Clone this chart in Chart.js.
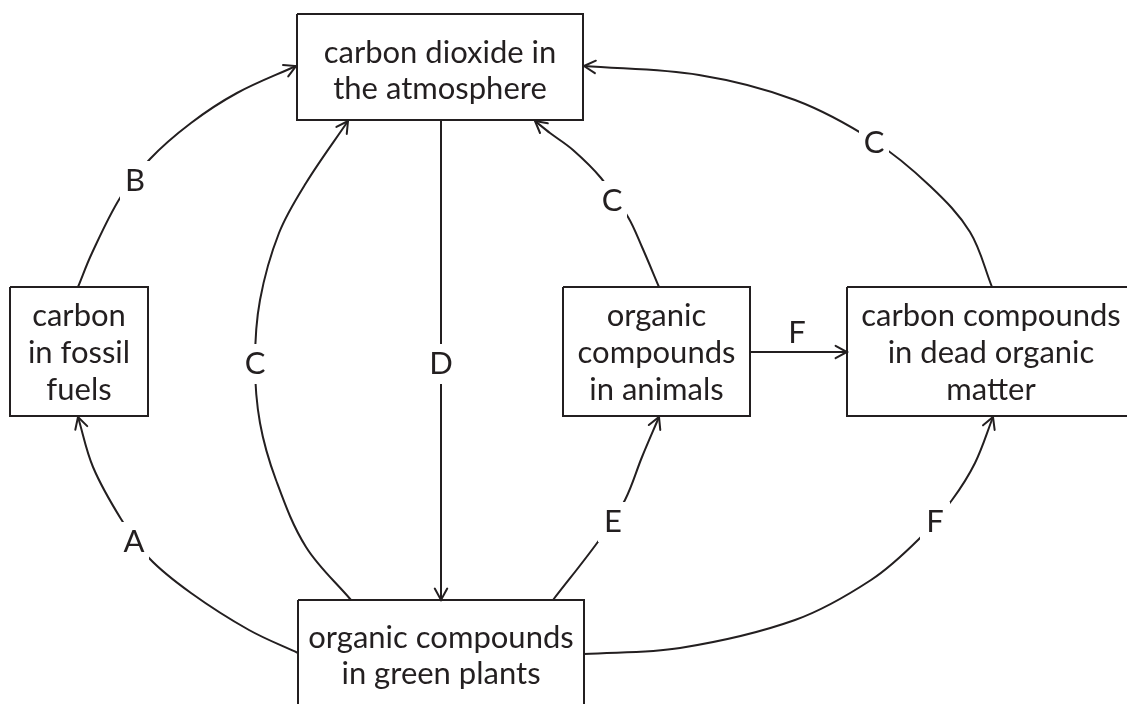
<!DOCTYPE html>
<html>
<head>
<meta charset="utf-8">
<title>Carbon cycle</title>
<script src="https://cdn.jsdelivr.net/npm/chart.js@4/dist/chart.umd.min.js"></script>
<style>
  body { margin: 0; background: #ffffff; }
  #wrap { width: 1127px; height: 704px; }
</style>
</head>
<body>
<div id="wrap"><canvas id="cycleChart" width="1127" height="704"></canvas></div>
<script>
// ======================================
// DATA (diagram units = picture pixels)
// ======================================

const boxNames  = ["atmosphere", "fossil", "animals", "dead", "plants"];
const boxLeft   = [297, 10, 563, 847, 298];
const boxTop    = [14, 287, 287, 287, 600];
const boxRight  = [583, 148, 750, 1135, 584];
const boxBottom = [120, 416, 416, 416, 720];
const boxText = [
    ["carbon dioxide in", "the atmosphere"],
    ["carbon", "in fossil", "fuels"],
    ["organic", "compounds", "in animals"],
    ["carbon compounds", "in dead organic", "matter"],
    ["organic compounds", "in green plants"]
];
const boxTextY = [
    [53, 89],
    [316, 353, 390],
    [316, 353, 390],
    [316, 353, 390],
    [638, 674]
];

// each flow runs from its start to the arrow tip
const flowA  = [[298, 653], [249, 630], [191, 593], [149, 558], [121, 519], [93, 467], [78, 417]];
const flowB  = [[78, 287], [92, 253], [120, 198], [150, 159], [191, 123], [237, 93], [296, 66]];
const flowC1 = [[351, 600], [306, 547], [276, 480], [260, 423], [255, 363], [260, 300], [279, 233], [306, 183], [348, 121]];
const flowD  = [[441, 121], [441, 600]];
const flowC2 = [[659, 287], [642, 247], [628, 217], [601, 178], [573, 150], [550, 133], [535, 121]];
const flowC3 = [[992, 287], [970, 232], [930, 186], [874, 141], [795, 100], [699, 75], [584, 66]];
const flowE  = [[553, 600], [600, 539], [625, 500], [642, 457], [659, 417]];
const flowF1 = [[750, 352], [847, 352]];
const flowF2 = [[584, 654], [680, 648], [795, 620], [871, 580], [919, 539], [952, 500], [975, 463], [993, 417]];

const flows = [flowA, flowB, flowC1, flowD, flowC2, flowC3, flowE, flowF1, flowF2];
const flowLetters = ["A", "B", "C", "D", "C", "C", "E", "F", "F"];
const labelX = [134, 135, 255, 441, 612, 874, 613, 797, 935];
const labelY = [542, 181, 364, 364, 201, 143, 522, 333, 522];
const labelMask = [true, true, true, true, true, true, true, false, true];

const INK = "#231f20";
const FONT = "31px Lato, 'Open Sans', sans-serif";

// ======================================
// DATASETS
// ======================================

const toPoints = arr => arr.map(p => ({ x: p[0], y: p[1] }));

const boxSets = boxNames.map((name, i) => ({
    label: name,
    data: toPoints([
        [boxLeft[i], boxTop[i]],
        [boxRight[i], boxTop[i]],
        [boxRight[i], boxBottom[i]],
        [boxLeft[i], boxBottom[i]],
        [boxLeft[i], boxTop[i]]
    ]),
    showLine: true,
    borderColor: INK,
    borderWidth: 2,
    pointRadius: 0,
    tension: 0,
    borderJoinStyle: "miter",
    clip: false
}));

const flowSets = flows.map((f, i) => ({
    label: "flow " + flowLetters[i],
    data: toPoints(f),
    showLine: true,
    borderColor: INK,
    borderWidth: 2,
    pointRadius: 0,
    tension: 0.35,
    isFlow: true
}));

// ======================================
// PLUGIN: arrowheads, letters, box text
// ======================================

const diagramPlugin = {
    id: "diagram",
    afterDatasetsDraw(chart) {
        const ctx = chart.ctx;
        const xs = chart.scales.x;
        const ys = chart.scales.y;

        // arrowheads
        chart.data.datasets.forEach((ds, i) => {
            if (!ds.isFlow) return;
            const pts = chart.getDatasetMeta(i).data;
            const tip = pts[pts.length - 1];
            const prev = pts[pts.length - 2];
            let bx = tip.cp1x, by = tip.cp1y;
            if (bx === undefined || Math.hypot(tip.x - bx, tip.y - by) < 0.5) {
                bx = prev.x; by = prev.y;
            }
            const ang = Math.atan2(tip.y - by, tip.x - bx);
            const len = 13, spread = 0.5;
            ctx.save();
            ctx.strokeStyle = INK;
            ctx.lineWidth = 2;
            ctx.lineCap = "round";
            ctx.beginPath();
            ctx.moveTo(tip.x - len * Math.cos(ang - spread), tip.y - len * Math.sin(ang - spread));
            ctx.lineTo(tip.x, tip.y);
            ctx.lineTo(tip.x - len * Math.cos(ang + spread), tip.y - len * Math.sin(ang + spread));
            ctx.stroke();
            ctx.restore();
        });

        ctx.save();
        ctx.font = FONT;
        ctx.textAlign = "center";
        ctx.textBaseline = "middle";

        // flow letters sit in a gap of the line
        flowLetters.forEach((t, i) => {
            const px = xs.getPixelForValue(labelX[i]);
            const py = ys.getPixelForValue(labelY[i]);
            if (labelMask[i]) {
                ctx.fillStyle = "#ffffff";
                ctx.fillRect(px - 15, py - 20, 30, 40);
            }
            ctx.fillStyle = INK;
            ctx.fillText(t, px, py);
        });

        // box text
        boxText.forEach((lines, i) => {
            const cx = xs.getPixelForValue((boxLeft[i] + boxRight[i]) / 2);
            lines.forEach((line, j) => {
                ctx.fillStyle = INK;
                ctx.fillText(line, cx, ys.getPixelForValue(boxTextY[i][j]));
            });
        });
        ctx.restore();
    }
};

// ======================================
// CHART
// ======================================

new Chart(document.getElementById("cycleChart"), {
    type: "scatter",
    data: { datasets: flowSets.concat(boxSets) },
    options: {
        responsive: false,
        animation: false,
        layout: { padding: 0 },
        plugins: {
            legend: { display: false },
            tooltip: { enabled: false }
        },
        scales: {
            x: { type: "linear", min: 0, max: 1127, display: false },
            y: { type: "linear", min: 0, max: 704, reverse: true, display: false }
        }
    },
    plugins: [diagramPlugin]
});
</script>
</body>
</html>
